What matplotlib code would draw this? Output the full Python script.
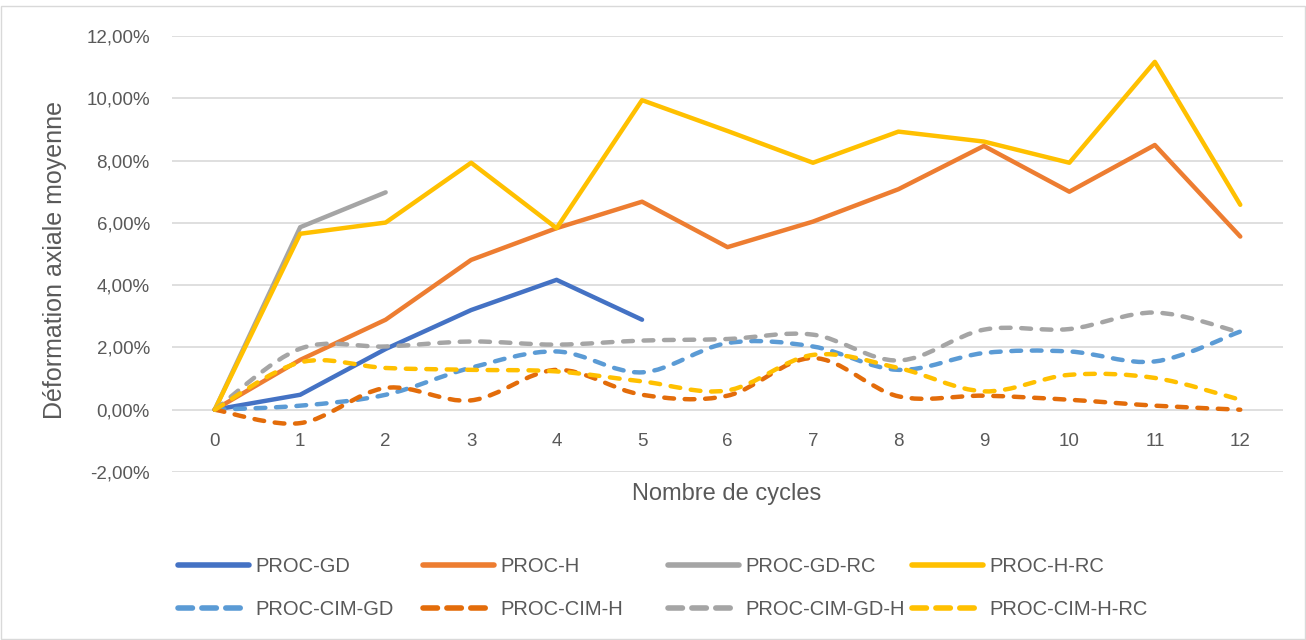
import matplotlib
matplotlib.use("Agg")
import matplotlib.pyplot as plt
from matplotlib.patches import Rectangle, PathPatch
from matplotlib.path import Path
from matplotlib.lines import Line2D
from matplotlib.ticker import FuncFormatter

plt.rcParams['font.family'] = ['Liberation Sans', 'DejaVu Sans']

cycles = list(range(13))

proc_gd = [0.00, 0.48, 1.95, 3.20, 4.17, 2.89]
proc_h = [0.00, 1.60, 2.89, 4.81, 5.83, 6.68, 5.22, 6.04, 7.08, 8.47, 7.00, 8.50, 5.56]
proc_gd_rc = [0.00, 5.86, 6.98]
proc_h_rc = [0.00, 5.65, 6.01, 7.93, 5.83, 9.94, 8.95, 7.93, 8.93, 8.61, 7.93, 11.17, 6.58]
proc_cim_gd = [0.00, 0.13, 0.48, 1.35, 1.87, 1.20, 2.14, 2.03, 1.28, 1.82, 1.87, 1.55, 2.51]
proc_cim_h = [0.00, -0.43, 0.70, 0.30, 1.28, 0.48, 0.45, 1.66, 0.43, 0.45, 0.32, 0.13, 0.00]
proc_cim_gd_h = [0.00, 1.96, 2.03, 2.19, 2.09, 2.22, 2.27, 2.41, 1.58, 2.57, 2.59, 3.12, 2.48]
proc_cim_h_rc = [0.00, 1.52, 1.34, 1.28, 1.23, 0.91, 0.62, 1.76, 1.34, 0.59, 1.12, 1.02, 0.32]

solid = [
    ("PROC-GD", proc_gd, "#4472C4"),
    ("PROC-H", proc_h, "#ED7D31"),
    ("PROC-GD-RC", proc_gd_rc, "#A5A5A5"),
    ("PROC-H-RC", proc_h_rc, "#FFC000"),
]
dashed = [
    ("PROC-CIM-GD", proc_cim_gd, "#5B9BD5"),
    ("PROC-CIM-H", proc_cim_h, "#E36C0A"),
    ("PROC-CIM-GD-H", proc_cim_gd_h, "#A5A5A5"),
    ("PROC-CIM-H-RC", proc_cim_h_rc, "#FFC000"),
]

LW = 3.2
DASH = (2.2, 2.4)
LEG_LW = 4
LEG_DASH = (2.6, 1.7)
TXT = '#595959'


def smooth_path(xs, ys):
    # cubic bezier through the points (catmull-rom style control points)
    pts = list(zip(xs, ys))
    verts = [pts[0]]
    codes = [Path.MOVETO]
    n = len(pts)
    for i in range(n - 1):
        p0 = pts[i - 1] if i > 0 else pts[i]
        p1 = pts[i]
        p2 = pts[i + 1]
        p3 = pts[i + 2] if i + 2 < n else pts[i + 1]
        c1 = (p1[0] + (p2[0] - p0[0]) / 6, p1[1] + (p2[1] - p0[1]) / 6)
        c2 = (p2[0] - (p3[0] - p1[0]) / 6, p2[1] - (p3[1] - p1[1]) / 6)
        verts += [c1, c2, p2]
        codes += [Path.CURVE4] * 3
    return Path(verts, codes)


fig = plt.figure(figsize=(13.06, 6.4), dpi=100)
ax = fig.add_axes([0.1317, 0.2625, 0.8507, 0.68125])

handles = {}
for name, vals, color in solid:
    ax.plot(cycles[:len(vals)], vals, color=color, lw=LW, solid_capstyle='round',
            solid_joinstyle='round', zorder=3)
    handles[name] = Line2D([], [], color=color, lw=LEG_LW, solid_capstyle='round')

for name, vals, color in dashed:
    patch = PathPatch(smooth_path(cycles[:len(vals)], vals), fill=False,
                      edgecolor=color, lw=LW, capstyle='round', joinstyle='round',
                      linestyle=(0, DASH), zorder=3)
    ax.add_patch(patch)
    handles[name] = Line2D([], [], color=color, lw=LEG_LW, dashes=LEG_DASH,
                           dash_capstyle='round')

ax.set_xlim(-0.5, 12.5)
ax.set_ylim(-2, 12)
ax.set_xticks(cycles)
ax.set_yticks(range(-2, 13, 2))
ax.yaxis.set_major_formatter(FuncFormatter(lambda v, p: f"{v:.2f}%".replace(".", ",")))
ax.grid(axis='y', color='#D9D9D9', lw=1.2)
ax.set_axisbelow(True)
for s in ax.spines.values():
    s.set_visible(False)
# category labels sit on the zero line
ax.spines['bottom'].set_position(('data', 0))
ax.tick_params(length=0, labelsize=13.5, colors=TXT)
ax.tick_params(axis='x', pad=17)
ax.tick_params(axis='y', pad=16)

fig.text(727 / 1306, 1 - 494 / 640, "Nombre de cycles", fontsize=17, color=TXT,
         ha='center', va='center')
fig.text(55 / 1306, 1 - 260 / 640, "Déformation axiale moyenne", fontsize=18,
         color=TXT, ha='center', va='center', rotation=90)

# one small legend per column so that every column has the same width
columns = [("PROC-GD", "PROC-CIM-GD"), ("PROC-H", "PROC-CIM-H"),
           ("PROC-GD-RC", "PROC-CIM-GD-H"), ("PROC-H-RC", "PROC-CIM-H-RC")]
col_x = [178, 423, 668, 912]
for names, x0 in zip(columns, col_x):
    fig.legend([handles[n] for n in names], names, loc='center left',
               bbox_to_anchor=(x0 / 1306, 1 - 588 / 640), frameon=False,
               fontsize=14.5, handlelength=3.55, handletextpad=0.3,
               labelspacing=1.2, borderpad=0, borderaxespad=0,
               labelcolor=TXT)

fig.add_artist(Rectangle((0.001, 0.002), 0.998, 0.988, transform=fig.transFigure,
                         fill=False, edgecolor='#D9D9D9', lw=1))

fig.savefig("out.png", dpi=100)
